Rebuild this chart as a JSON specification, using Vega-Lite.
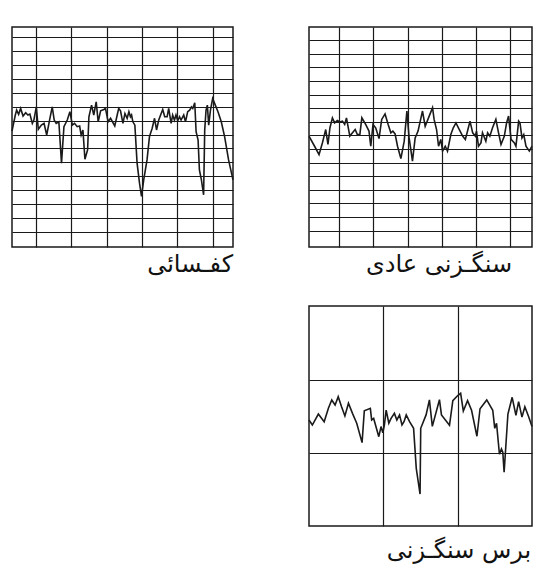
{
  "$schema": "https://vega.github.io/schema/vega-lite/v6.json",
  "background": "white",
  "padding": {"left": 8, "top": 26, "right": 2, "bottom": 5},
  "bounds": "flush",
  "columns": 2,
  "spacing": {"column": 76, "row": 59},
  "datasets": {
    "p1": [
      {"x":0,"y":52.7},{"x":1.5,"y":60.0},{"x":2.1,"y":62.2},{"x":3.0,"y":60.3},{"x":3.9,"y":63.0},{"x":5.0,"y":59.5},{"x":6.2,"y":61.0},{"x":7.2,"y":60.0},{"x":8.1,"y":60.4},{"x":9.2,"y":56.2},{"x":9.9,"y":57.7},{"x":11.0,"y":63.7},{"x":11.9,"y":53.5},{"x":13.3,"y":55.4},{"x":14.5,"y":56.2},{"x":15.7,"y":50.9},{"x":17.0,"y":57.7},{"x":18.2,"y":63.7},{"x":19.1,"y":57.7},{"x":20.0,"y":56.2},{"x":21.2,"y":56.9},{"x":22.4,"y":38.1},{"x":23.5,"y":54.7},{"x":25.0,"y":57.7},{"x":26.2,"y":61.5},{"x":27.3,"y":55.4},{"x":28.3,"y":56.2},{"x":29.5,"y":54.7},{"x":30.6,"y":55.0},{"x":31.3,"y":50.9},{"x":32.1,"y":53.2},{"x":33.0,"y":39.9},{"x":34.2,"y":44.1},{"x":34.8,"y":59.2},{"x":36.0,"y":64.5},{"x":37.0,"y":60.0},{"x":38.1,"y":66.0},{"x":39.0,"y":56.9},{"x":40.1,"y":61.9},{"x":41.6,"y":62.5},{"x":42.3,"y":63.0},{"x":43.5,"y":56.9},{"x":44.6,"y":58.5},{"x":46.5,"y":55.0},{"x":47.6,"y":60.0},{"x":48.3,"y":63.0},{"x":49.1,"y":61.9},{"x":50.2,"y":56.2},{"x":51.1,"y":60.7},{"x":52.1,"y":58.5},{"x":52.9,"y":61.5},{"x":53.6,"y":59.2},{"x":54.1,"y":60.0},{"x":54.7,"y":56.9},{"x":55.6,"y":55.4},{"x":56.6,"y":38.1},{"x":57.7,"y":29.0},{"x":58.6,"y":23.0},{"x":59.6,"y":30.5},{"x":61.1,"y":39.6},{"x":62.2,"y":50.2},{"x":63.4,"y":53.9},{"x":64.5,"y":58.5},{"x":65.4,"y":53.2},{"x":66.4,"y":57.7},{"x":67.5,"y":60.7},{"x":68.2,"y":62.5},{"x":69.1,"y":59.2},{"x":70.2,"y":59.2},{"x":70.9,"y":63.0},{"x":72.0,"y":56.2},{"x":72.7,"y":60.0},{"x":73.5,"y":57.7},{"x":74.2,"y":60.0},{"x":75.0,"y":57.4},{"x":75.8,"y":59.2},{"x":76.5,"y":57.7},{"x":77.7,"y":60.0},{"x":78.5,"y":56.9},{"x":79.5,"y":61.5},{"x":80.4,"y":62.2},{"x":81.2,"y":63.7},{"x":81.8,"y":63.0},{"x":82.7,"y":65.6},{"x":83.3,"y":52.4},{"x":84.2,"y":48.6},{"x":84.8,"y":35.0},{"x":85.7,"y":30.5},{"x":86.7,"y":23.7},{"x":87.2,"y":53.2},{"x":87.8,"y":62.2},{"x":88.4,"y":64.5},{"x":89.0,"y":55.4},{"x":89.8,"y":62.2},{"x":90.8,"y":67.5},{"x":92.0,"y":64.5},{"x":93.2,"y":61.5},{"x":94.7,"y":56.9},{"x":96.2,"y":50.2},{"x":98.0,"y":39.6},{"x":100,"y":30.5}
    ],
    "p2": [
      {"x":0,"y":50.4},{"x":2.5,"y":45.8},{"x":4.5,"y":42.0},{"x":6.0,"y":47.3},{"x":7.5,"y":53.4},{"x":8.5,"y":46.6},{"x":9.4,"y":54.2},{"x":10.5,"y":58.7},{"x":11.5,"y":56.4},{"x":12.7,"y":57.5},{"x":13.8,"y":56.8},{"x":15.0,"y":57.2},{"x":16.0,"y":55.7},{"x":16.8,"y":58.7},{"x":18.3,"y":50.4},{"x":19.5,"y":51.9},{"x":20.7,"y":53.4},{"x":21.7,"y":51.1},{"x":22.8,"y":51.1},{"x":23.7,"y":58.7},{"x":25.4,"y":55.7},{"x":26.9,"y":52.7},{"x":27.7,"y":45.8},{"x":28.7,"y":55.7},{"x":29.9,"y":54.2},{"x":31.4,"y":49.3},{"x":32.6,"y":58.0},{"x":34.1,"y":60.5},{"x":35.5,"y":55.7},{"x":36.7,"y":51.9},{"x":37.6,"y":52.7},{"x":38.6,"y":51.4},{"x":39.7,"y":45.8},{"x":41.2,"y":40.2},{"x":42.7,"y":48.1},{"x":43.9,"y":61.8},{"x":44.9,"y":49.6},{"x":46.4,"y":39.0},{"x":47.6,"y":49.6},{"x":48.9,"y":52.7},{"x":50.9,"y":61.8},{"x":52.1,"y":54.9},{"x":53.9,"y":59.5},{"x":55.4,"y":63.3},{"x":56.1,"y":58.0},{"x":57.2,"y":53.4},{"x":58.1,"y":45.8},{"x":59.1,"y":48.9},{"x":59.9,"y":43.6},{"x":61.1,"y":45.8},{"x":62.1,"y":43.6},{"x":63.6,"y":51.1},{"x":64.7,"y":54.2},{"x":65.9,"y":56.4},{"x":67.4,"y":53.4},{"x":68.9,"y":50.4},{"x":70.1,"y":48.9},{"x":71.1,"y":52.7},{"x":72.2,"y":57.2},{"x":73.4,"y":51.9},{"x":74.6,"y":50.4},{"x":75.1,"y":52.7},{"x":76.0,"y":45.8},{"x":77.1,"y":47.3},{"x":77.8,"y":51.9},{"x":79.3,"y":48.1},{"x":80.1,"y":51.9},{"x":81.1,"y":50.4},{"x":82.3,"y":54.2},{"x":83.8,"y":58.0},{"x":85.0,"y":51.9},{"x":86.1,"y":46.6},{"x":87.6,"y":50.4},{"x":88.6,"y":56.4},{"x":89.5,"y":59.5},{"x":90.6,"y":48.9},{"x":92.1,"y":47.3},{"x":92.8,"y":45.8},{"x":94.0,"y":57.2},{"x":94.6,"y":56.4},{"x":95.5,"y":49.6},{"x":96.3,"y":51.1},{"x":97.3,"y":45.8},{"x":98.8,"y":43.6},{"x":100,"y":45.8}
    ],
    "p3": [
      {"x":0,"y":48.2},{"x":1.5,"y":45.9},{"x":4.2,"y":50.9},{"x":6.8,"y":47.4},{"x":8.7,"y":53.5},{"x":10.2,"y":57.3},{"x":11.7,"y":55.0},{"x":13.1,"y":58.8},{"x":14.6,"y":54.2},{"x":16.1,"y":50.0},{"x":17.7,"y":55.8},{"x":19.5,"y":51.2},{"x":21.4,"y":46.7},{"x":23.8,"y":37.9},{"x":24.8,"y":52.4},{"x":27.5,"y":53.5},{"x":28.1,"y":48.2},{"x":29.0,"y":48.9},{"x":31.3,"y":40.6},{"x":32.3,"y":45.2},{"x":33.1,"y":42.4},{"x":33.8,"y":45.9},{"x":34.6,"y":52.7},{"x":35.8,"y":46.7},{"x":36.8,"y":48.9},{"x":38.3,"y":51.2},{"x":39.4,"y":48.2},{"x":40.6,"y":50.5},{"x":41.7,"y":45.9},{"x":42.6,"y":47.4},{"x":43.6,"y":50.5},{"x":45.1,"y":47.4},{"x":46.9,"y":44.4},{"x":48.1,"y":26.2},{"x":49.8,"y":14.5},{"x":50.1,"y":44.4},{"x":52.5,"y":50.5},{"x":54.0,"y":57.3},{"x":55.3,"y":45.3},{"x":58.5,"y":57.4},{"x":59.4,"y":50.5},{"x":63.0,"y":45.8},{"x":64.5,"y":57.0},{"x":66.6,"y":59.2},{"x":68.0,"y":60.3},{"x":69.2,"y":52.3},{"x":71.1,"y":57.0},{"x":72.9,"y":52.6},{"x":75.3,"y":40.8},{"x":76.7,"y":53.3},{"x":79.7,"y":57.3},{"x":82.4,"y":52.6},{"x":83.3,"y":44.4},{"x":84.1,"y":46.7},{"x":85.4,"y":32.6},{"x":86.3,"y":35.0},{"x":86.9,"y":33.5},{"x":87.5,"y":24.4},{"x":89.2,"y":50.9},{"x":91.1,"y":58.5},{"x":92.8,"y":50.3},{"x":94.0,"y":56.5},{"x":95.5,"y":49.5},{"x":96.8,"y":54.2},{"x":98.5,"y":49.7},{"x":100,"y":45.2}
    ]
  },
  "concat": [
    {
      "width": 221, "height": 220,
      "data": {"name": "p1"},
      "title": {"text": "كفـسائی", "orient": "bottom", "anchor": "end", "dx": -3},
      "mark": {"type": "line", "color": "#1a1a1a", "strokeWidth": 1.6, "strokeJoin": "miter"},
      "encoding": {
        "x": {"field": "x", "type": "quantitative", "scale": {"domain": [0, 100], "nice": false, "zero": false},
              "axis": {"values": [10.8, 26.8, 42.8, 58.8, 74.8, 90.8]}},
        "y": {"field": "y", "type": "quantitative", "scale": {"domain": [0, 100], "nice": false, "zero": false},
              "axis": {"values": [6.8, 13.1, 19.5, 25.8, 32.1, 38.5, 44.8, 51.1, 57.4, 63.8, 70.1, 76.4, 82.8, 89.1, 95.4]}}
      }
    },
    {
      "width": 223, "height": 220,
      "data": {"name": "p2"},
      "title": {"text": "سنگـزنی عادی", "orient": "bottom", "anchor": "end", "dx": -23},
      "mark": {"type": "line", "color": "#1a1a1a", "strokeWidth": 1.6, "strokeJoin": "miter"},
      "encoding": {
        "x": {"field": "x", "type": "quantitative", "scale": {"domain": [0, 100], "nice": false, "zero": false},
              "axis": {"values": [13.5, 28.85, 44.2, 59.55, 74.9, 90.25]}},
        "y": {"field": "y", "type": "quantitative", "scale": {"domain": [0, 100], "nice": false, "zero": false},
              "axis": {"values": [7.4, 13.6, 19.8, 25.9, 32.1, 38.3, 44.5, 50.7, 56.8, 63.0, 69.2, 75.4, 81.6, 87.7, 93.9]}}
      }
    },
    {
      "width": 221, "height": 220,
      "data": {"values": []},
      "view": {"stroke": null},
      "mark": "point",
      "encoding": {}
    },
    {
      "width": 223, "height": 220,
      "data": {"name": "p3"},
      "title": {"text": "برس سنگـزنی", "orient": "bottom", "anchor": "end", "dx": -4, "offset": 13},
      "mark": {"type": "line", "color": "#1a1a1a", "strokeWidth": 1.6, "strokeJoin": "miter"},
      "encoding": {
        "x": {"field": "x", "type": "quantitative", "scale": {"domain": [0, 100], "nice": false, "zero": false},
              "axis": {"values": [33.4, 66.9]}},
        "y": {"field": "y", "type": "quantitative", "scale": {"domain": [0, 100], "nice": false, "zero": false},
              "axis": {"values": [33.0, 66.4]}}
      }
    }
  ],
  "config": {
    "font": "DejaVu Sans",
    "view": {"stroke": "#1a1a1a", "strokeWidth": 1.5},
    "axis": {"grid": true, "labels": false, "ticks": false, "domain": false, "title": null,
             "gridColor": "#1a1a1a", "gridOpacity": 1, "gridWidth": 1.2},
    "title": {"fontSize": 24, "fontWeight": "normal", "color": "#111111", "font": "DejaVu Sans", "offset": 6}
  }
}
